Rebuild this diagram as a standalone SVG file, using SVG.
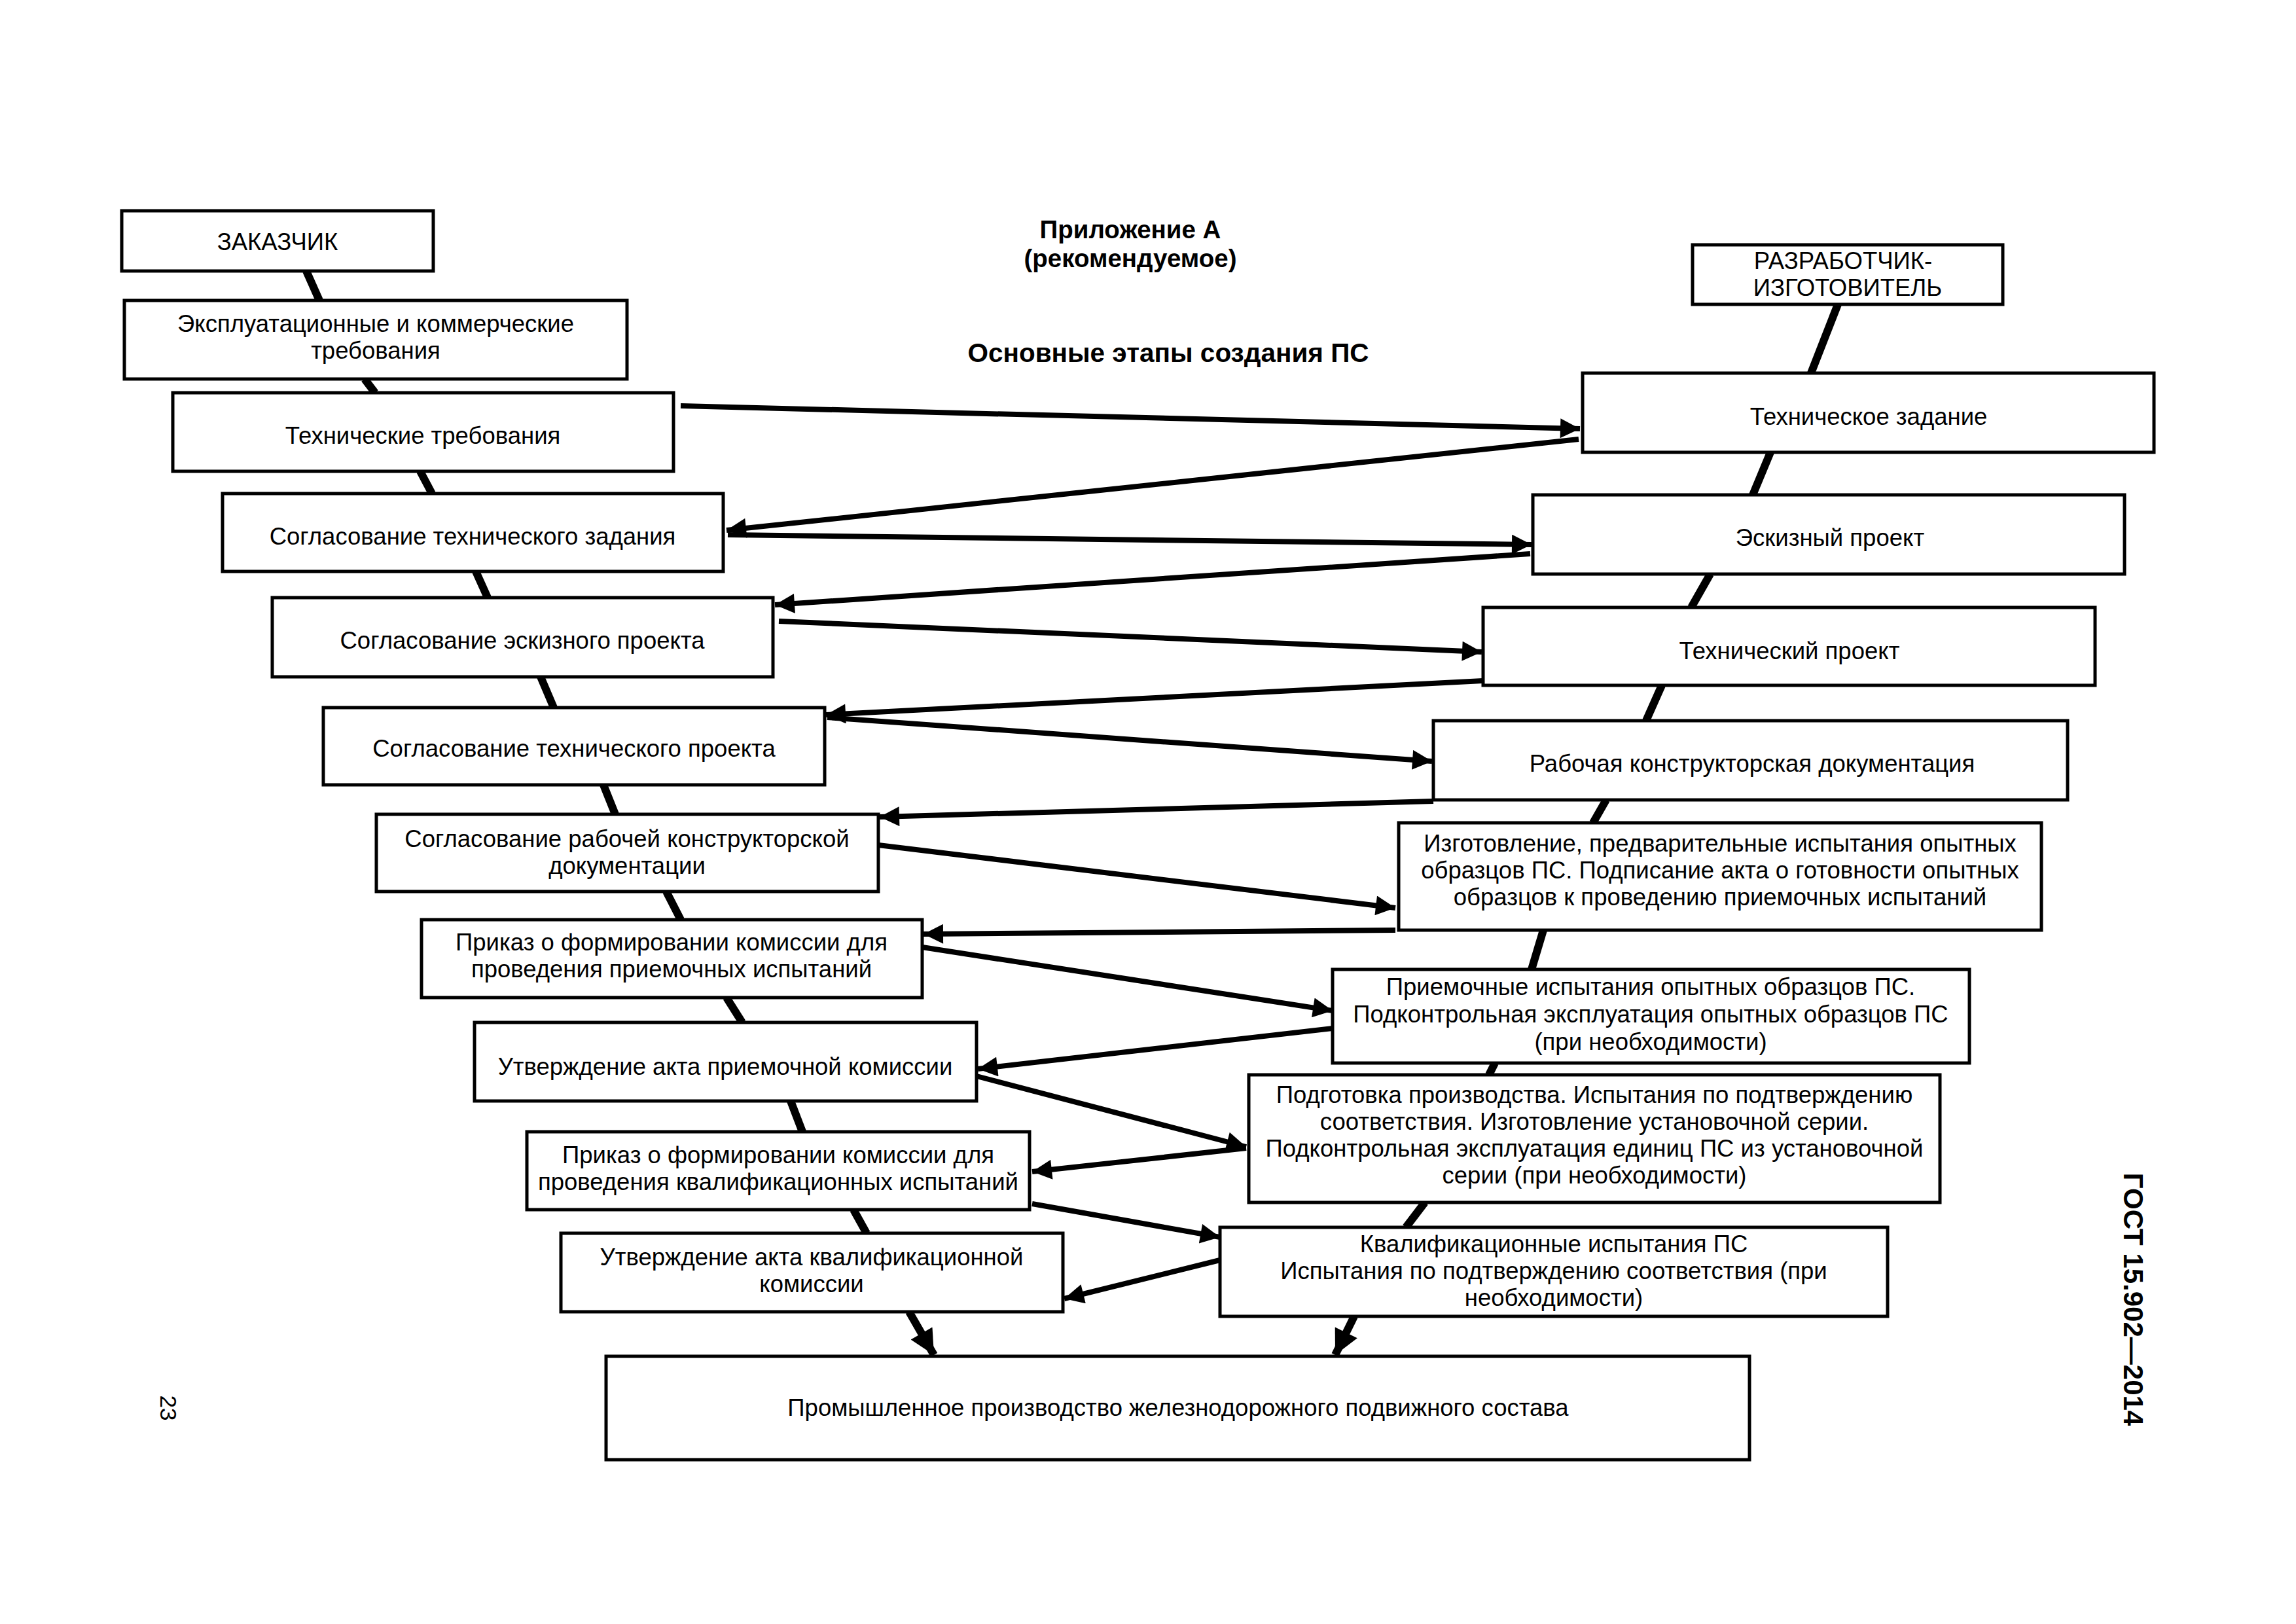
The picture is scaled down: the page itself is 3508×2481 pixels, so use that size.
<svg xmlns="http://www.w3.org/2000/svg" width="3508" height="2481" viewBox="0 0 3508 2481">
<style>
.box{fill:#fff;stroke:#000;stroke-width:5}
.t{font-family:"Liberation Sans",Arial,sans-serif;font-size:36.5px;fill:#000;text-anchor:middle}
.b{font-weight:bold}
.spine{stroke:#000;stroke-width:12;fill:none}
.arr{stroke:#000;stroke-width:8;fill:none;marker-end:url(#ah)}
.big{stroke:#000;stroke-width:12;fill:none;marker-end:url(#ahb)}
</style>
<defs>
<marker id="ah" markerUnits="userSpaceOnUse" viewBox="0 0 10 10" refX="10" refY="5" markerWidth="34" markerHeight="30" orient="auto"><path d="M0,0 L10,5 L0,10 z" fill="#000"/></marker>
<marker id="ahb" markerUnits="userSpaceOnUse" viewBox="0 0 10 10" refX="10" refY="5" markerWidth="40" markerHeight="38" orient="auto"><path d="M0,0 L10,5 L0,10 z" fill="#000"/></marker>
</defs>
<rect width="3508" height="2481" fill="#fff"/>

<g id="titles">
<text class="t b" x="1727" y="364" style="font-size:38.5px">Приложение А<tspan x="1727" dy="44">(рекомендуемое)</tspan></text>
<text class="t b" x="1785" y="553" style="font-size:40.5px">Основные этапы создания ПС</text>
<g transform="translate(3260,1985) rotate(90)"><text class="t b" x="0" y="15" style="font-size:42px">ГОСТ 15.902—2014</text></g>
<g transform="translate(257,2151) rotate(90)"><text class="t" x="0" y="12" style="font-size:35px">23</text></g>
</g>

<g id="connectors">
<line class="spine" x1="468" y1="414" x2="488" y2="459"/>
<line class="spine" x1="557" y1="579" x2="573" y2="600"/>
<line class="spine" x1="642" y1="720" x2="660" y2="754"/>
<line class="spine" x1="727" y1="873" x2="745" y2="913"/>
<line class="spine" x1="826" y1="1034" x2="846" y2="1081"/>
<line class="spine" x1="922" y1="1199" x2="940" y2="1244"/>
<line class="spine" x1="1018" y1="1362" x2="1040" y2="1405"/>
<line class="spine" x1="1110" y1="1524" x2="1134" y2="1562"/>
<line class="spine" x1="1208" y1="1682" x2="1226" y2="1729"/>
<line class="spine" x1="1304" y1="1848" x2="1324" y2="1884"/>
<line class="big" x1="1389" y1="2004" x2="1427" y2="2070"/>
<line class="spine" x1="2808" y1="465" x2="2767" y2="570"/>
<line class="spine" x1="2705" y1="691" x2="2678" y2="756"/>
<line class="spine" x1="2613" y1="877" x2="2584" y2="928"/>
<line class="spine" x1="2539" y1="1047" x2="2515" y2="1101"/>
<line class="spine" x1="2454" y1="1222" x2="2434" y2="1257"/>
<line class="spine" x1="2358" y1="1421" x2="2340" y2="1481"/>
<line class="spine" x1="2284" y1="1624" x2="2275" y2="1642"/>
<line class="spine" x1="2177" y1="1837" x2="2148" y2="1875"/>
<line class="big" x1="2069" y1="2011" x2="2040" y2="2070"/>
<line class="arr" x1="1040" y1="620" x2="2414" y2="655"/>
<line class="arr" x1="2412" y1="671" x2="1110" y2="810"/>
<line class="arr" x1="1112" y1="817" x2="2340" y2="832"/>
<line class="arr" x1="2338" y1="846" x2="1184" y2="924"/>
<line class="arr" x1="1190" y1="949" x2="2264" y2="996"/>
<line class="arr" x1="2266" y1="1040" x2="1262" y2="1092"/>
<line class="arr" x1="1264" y1="1096" x2="2188" y2="1163"/>
<line class="arr" x1="2190" y1="1224" x2="1344" y2="1248"/>
<line class="arr" x1="1342" y1="1291" x2="2132" y2="1387"/>
<line class="arr" x1="2132" y1="1421" x2="1411" y2="1427"/>
<line class="arr" x1="1409" y1="1447" x2="2036" y2="1544"/>
<line class="arr" x1="2036" y1="1571" x2="1494" y2="1633"/>
<line class="arr" x1="1492" y1="1644" x2="1904" y2="1752"/>
<line class="arr" x1="1904" y1="1754" x2="1577" y2="1790"/>
<line class="arr" x1="1577" y1="1839" x2="1864" y2="1890"/>
<line class="arr" x1="1868" y1="1924" x2="1626" y2="1984"/>
</g>

<g id="n_zakazchik"><rect class="box" x="186" y="322" width="476" height="92"/><text class="t" x="424" y="382">ЗАКАЗЧИК</text></g>
<g id="n_ekspl"><rect class="box" x="190" y="459" width="768" height="120"/><text class="t" x="574" y="507">Эксплуатационные и коммерческие<tspan x="574" dy="41">требования</tspan></text></g>
<g id="n_tt"><rect class="box" x="264" y="600" width="765" height="120"/><text class="t" x="646" y="678">Технические требования</text></g>
<g id="n_stz"><rect class="box" x="340" y="754" width="765" height="119"/><text class="t" x="722" y="832">Согласование технического задания</text></g>
<g id="n_sep"><rect class="box" x="416" y="913" width="765" height="121"/><text class="t" x="798" y="991">Согласование эскизного проекта</text></g>
<g id="n_stp"><rect class="box" x="494" y="1081" width="766" height="118"/><text class="t" x="877" y="1156">Согласование технического проекта</text></g>
<g id="n_srkd"><rect class="box" x="575" y="1244" width="767" height="118"/><text class="t" x="958" y="1294">Согласование рабочей конструкторской<tspan x="958" dy="41">документации</tspan></text></g>
<g id="n_prikaz1"><rect class="box" x="644" y="1405" width="765" height="119"/><text class="t" x="1026" y="1452">Приказ о формировании комиссии для<tspan x="1026" dy="41">проведения приемочных испытаний</tspan></text></g>
<g id="n_uapk"><rect class="box" x="725" y="1562" width="767" height="120"/><text class="t" x="1108" y="1642">Утверждение акта приемочной комиссии</text></g>
<g id="n_prikaz2"><rect class="box" x="805" y="1729" width="768" height="119"/><text class="t" x="1189" y="1777">Приказ о формировании комиссии для<tspan x="1189" dy="41">проведения квалификационных испытаний</tspan></text></g>
<g id="n_uakk"><rect class="box" x="857" y="1884" width="767" height="120"/><text class="t" x="1240" y="1933">Утверждение акта квалификационной<tspan x="1240" dy="41">комиссии</tspan></text></g>
<g id="n_prom"><rect class="box" x="926" y="2072" width="1747" height="158"/><text class="t" x="1800" y="2163">Промышленное производство железнодорожного подвижного состава</text></g>

<g id="n_razrab"><rect class="box" x="2586" y="374" width="474" height="91"/><text class="t" x="2816" y="411">РАЗРАБОТЧИК-<tspan x="2823" dy="41">ИЗГОТОВИТЕЛЬ</tspan></text></g>
<g id="n_tz"><rect class="box" x="2418" y="570" width="873" height="121"/><text class="t" x="2855" y="649">Техническое задание</text></g>
<g id="n_ep"><rect class="box" x="2342" y="756" width="904" height="121"/><text class="t" x="2796" y="834">Эскизный проект</text></g>
<g id="n_tp"><rect class="box" x="2266" y="928" width="935" height="119"/><text class="t" x="2734" y="1007">Технический проект</text></g>
<g id="n_rkd"><rect class="box" x="2190" y="1101" width="969" height="121"/><text class="t" x="2677" y="1179">Рабочая конструкторская документация</text></g>
<g id="n_izgot"><rect class="box" x="2137" y="1257" width="982" height="164"/><text class="t" x="2628" y="1301">Изготовление, предварительные испытания опытных<tspan x="2628" dy="41">образцов ПС. Подписание акта о готовности опытных</tspan><tspan x="2628" dy="41">образцов к проведению приемочных испытаний</tspan></text></g>
<g id="n_priem"><rect class="box" x="2036" y="1481" width="973" height="143"/><text class="t" x="2522" y="1520">Приемочные испытания опытных образцов ПС.<tspan x="2522" dy="42">Подконтрольная эксплуатация опытных образцов ПС</tspan><tspan x="2522" dy="42">(при необходимости)</tspan></text></g>
<g id="n_podgot"><rect class="box" x="1908" y="1642" width="1056" height="195"/><text class="t" x="2436" y="1685">Подготовка производства. Испытания по подтверждению<tspan x="2436" dy="41">соответствия. Изготовление установочной серии.</tspan><tspan x="2436" dy="41">Подконтрольная эксплуатация единиц ПС из установочной</tspan><tspan x="2436" dy="41">серии (при необходимости)</tspan></text></g>
<g id="n_kval"><rect class="box" x="1864" y="1875" width="1020" height="136"/><text class="t" x="2374" y="1913">Квалификационные испытания ПС<tspan x="2374" dy="41">Испытания по подтверждению соответствия (при</tspan><tspan x="2374" dy="41">необходимости)</tspan></text></g>
</svg>
